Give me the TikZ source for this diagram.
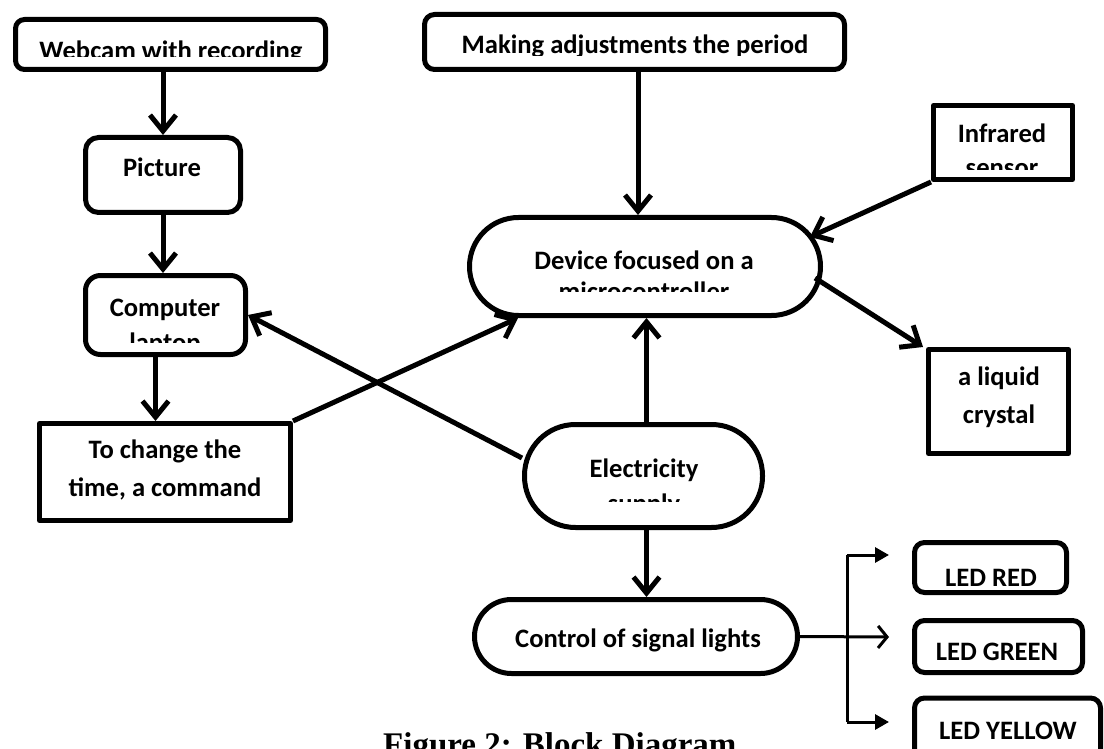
\documentclass[tikz,border=0pt]{standalone}
\usepackage{fontspec}
\newfontfamily\cbf{Carlito}
\newfontfamily\tnr{Liberation Serif}
\usetikzlibrary{arrows.meta,calc}
\begin{document}
\begin{tikzpicture}[x=1pt,y=-1pt,
  box/.style={draw=black, line width=5pt, fill=white, inner sep=0pt, line join=round},
  txt/.style={font=\cbf\bfseries\fontsize{26.6}{38}\selectfont, inner sep=0pt, align=center, anchor=base},
  arr/.style={line width=5pt, -{Straight Barb[length=16pt,width=26pt]}},
  thinarr/.style={line width=3pt, -{Straight Barb[length=9pt,width=22pt]}},
  filarr/.style={line width=3pt, -{Triangle[length=14pt,width=15pt]}}
]
\useasboundingbox (0,0) rectangle (1104,749);
\clip (0,0) rectangle (1104,749);
\fill[white] (0,0) rectangle (1104,749);

% ---------- boxes ----------
\node[box, rounded corners=9pt, minimum width=310pt, minimum height=50pt] (webcam) at (170.5,44.5) {};
\node[box, rounded corners=13pt, minimum width=155pt, minimum height=75pt] (picture) at (163,175) {};
\node[box, rounded corners=15pt, minimum width=160pt, minimum height=79pt] (computer) at (165.5,315) {};
\node[box, minimum width=251pt, minimum height=97pt] (change) at (165,472) {};
\node[box, rounded corners=10pt, minimum width=420pt, minimum height=55pt] (making) at (634.5,42) {};
\node[box, minimum width=139pt, minimum height=74pt] (infrared) at (1003,142.5) {};
\node[box, rounded corners=49pt, minimum width=351pt, minimum height=98pt] (device) at (645,266.5) {};
\node[box, minimum width=140pt, minimum height=104pt] (liquid) at (998.5,401.5) {};
\node[box, rounded corners=51pt, minimum width=238pt, minimum height=103pt] (elec) at (643.5,476) {};
\node[box, rounded corners=37pt, minimum width=323pt, minimum height=74pt] (control) at (636,636.5) {};
\node[box, rounded corners=10pt, minimum width=152pt, minimum height=50pt] (ledred) at (990.5,567.5) {};
\node[box, rounded corners=10pt, minimum width=168pt, minimum height=52pt] (ledgreen) at (998.5,646.5) {};
\node[box, rounded corners=10pt, minimum width=186pt, minimum height=62pt] (ledyellow) at (1007.5,729) {};

% ---------- texts (base = baseline of the last line) ----------
\begin{scope}
  \clip (0,0) rectangle (1104,57);
  \node[txt] (webcamT) at (171,59.5) {Webcam with recording};
\end{scope}
\node[txt] (pictureT) at (162,177) {Picture};
\begin{scope}
  \clip (0,0) rectangle (1104,342);
  \node[txt, font=\cbf\bfseries\fontsize{26.6}{35}\selectfont] (computerT) at (165,351) {Computer\\laptop};
\end{scope}
\node[txt] (changeT) at (165,496) {To change the\\time, a command};
\begin{scope}
  \clip (0,0) rectangle (1104,55.5);
  \node[txt] (makingT) at (635,54) {Making adjustments the period};
\end{scope}
\begin{scope}
  \clip (0,0) rectangle (1104,170);
  \node[txt, font=\cbf\bfseries\fontsize{26.6}{34}\selectfont] (infraredT) at (1002,177) {Infrared\\sensor};
\end{scope}
\begin{scope}
  \clip (0,0) rectangle (1104,291);
  \node[txt, font=\cbf\bfseries\fontsize{26.6}{31}\selectfont] (deviceT) at (644,300) {Device focused on a\\microcontroller};
\end{scope}
\node[txt] (liquidT) at (999,423) {a liquid\\crystal};
\begin{scope}
  \clip (0,0) rectangle (1104,501);
  \node[txt, font=\cbf\bfseries\fontsize{26.6}{35}\selectfont] (elecT) at (644,512) {Electricity\\supply};
\end{scope}
\node[txt] (controlT) at (638,647) {Control of signal lights};
\node[txt] (ledredT) at (991,586) {LED RED};
\node[txt] (ledgreenT) at (997,660) {LED GREEN};
\node[txt] (ledyellowT) at (1008,739) {LED YELLOW};
\node[font=\tnr\bfseries\fontsize{33}{40}\selectfont, anchor=base west, inner sep=0pt] (caption) at (383,755) {Figure 2: Block Diagram};

% ---------- connectors ----------
\draw[arr] (webcam.south -| picture.north) -- (picture.north);
\draw[arr] (picture.south) -- (picture.south |- computer.north);
\draw[arr] ([xshift=-10pt]computer.south) -- ([xshift=-10pt]computer.south |- change.north);
\draw[arr] ([xshift=3.5pt]making.south) -- ([xshift=3.5pt]making.south |- device.north);

\coordinate (devIR) at (810,237);
\draw[arr] (infrared.south west) -- (devIR);
\coordinate (devLC) at (815,278);
\draw[arr] (devLC) -- ([shift={(-3pt,0pt)}]liquid.north west);
\coordinate (devCH) at (518,318);
\draw[arr] (change.north east) -- (devCH);
\coordinate (elecW) at (522,458);
\draw[arr] (elecW) -- (computer.east);
\draw[arr] ([xshift=3pt]elec.north) -- ([xshift=3pt]elec.north |- device.south);
\draw[arr] ([xshift=3pt]elec.south) -- ([xshift=3pt]elec.south |- control.north);

% ---------- LED branch ----------
\coordinate (brTop) at (847,555);
\coordinate (brBot) at (847,722);
\coordinate (tipTop) at (889,555);
\coordinate (tipMid) at (889,637);
\coordinate (tipBot) at (889,722);
\draw[line width=3pt] (brTop) -- (brBot);
\draw[filarr] (brTop) -- (tipTop);
\draw[filarr] (brBot) -- (tipBot);
\draw[thinarr] (control.east) -- (tipMid);
\end{tikzpicture}
\end{document}
